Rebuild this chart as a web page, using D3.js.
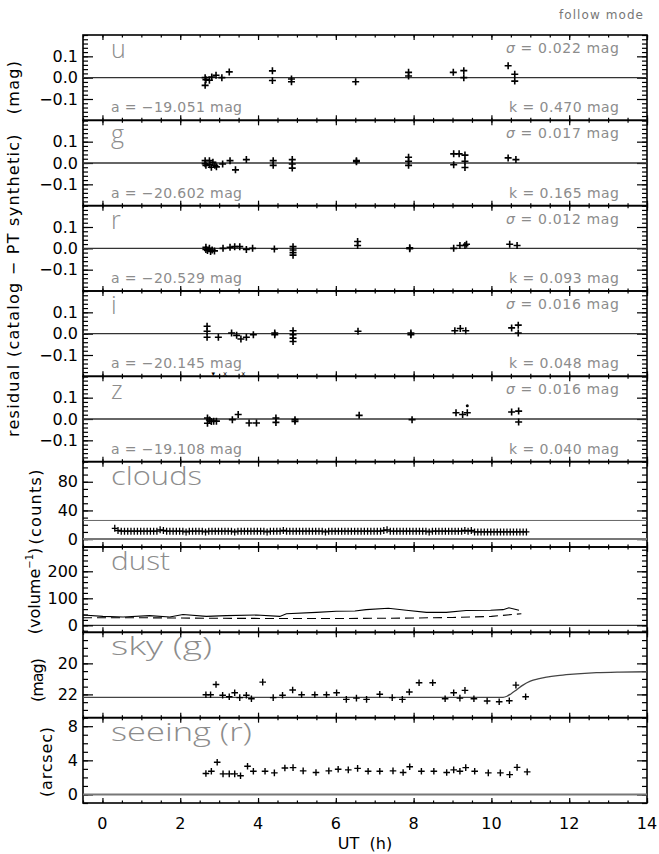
<!DOCTYPE html>
<html lang="en">
<head>
<meta charset="UTF-8">
<title>follow mode</title>
<script src="https://cdnjs.cloudflare.com/ajax/libs/d3/7.8.5/d3.min.js"></script>
<style>
  html, body { margin: 0; padding: 0; background: #fff; }
  svg text { font-family: 'DejaVu Sans', sans-serif; }
  .big { font-family: 'Open Sans', 'DejaVu Sans', sans-serif; font-weight: 300; white-space: pre; }
</style>
</head>
<body>
<div id="chart"></div>
<script>

// ---- data ----
var panelNames = ["u", "g", "r", "i", "z", "clouds", "dust", "sky (g)", "seeing (r)"];
var nameWidths = [0, 0, 0, 0, 0, 91, 59, 101, 141];
var zeroPoints = ["\u221219.051", "\u221220.602", "\u221220.529", "\u221220.145", "\u221219.108"];
var sigmas = ["0.022", "0.017", "0.012", "0.016", "0.016"];
var extinctions = ["0.470", "0.165", "0.093", "0.048", "0.040"];

var xTicks = [0, 2, 4, 6, 8, 10, 12, 14];
var residTicks = [-0.1, 0, 0.1];
var cloudTicks = [0, 40, 80];
var dustTicks = [0, 100, 200];
var skyTicks = [20, 22];
var seeingTicks = [0, 4, 8];

var uResid = [[2.64,0.000],[2.64,-0.036],[2.66,-0.010],[2.75,-0.012],[2.81,0.003],[2.92,0.011],[3.07,0.000],[3.26,0.027],
  [4.37,0.032],[4.37,-0.013],[4.86,-0.006],[4.86,-0.019],[6.51,-0.019],[7.87,0.025],[7.87,0.008],[9.02,0.025],
  [9.29,0.033],[9.29,0.000],[10.43,0.056],[10.60,0.016],[10.60,-0.016]];
var gResid = [[2.64,0.011],[2.64,-0.003],[2.66,-0.011],[2.75,0.011],[2.76,-0.008],[2.80,-0.020],[2.84,0.003],[2.89,-0.011],
  [2.93,-0.018],[3.09,-0.005],[3.28,0.011],[3.42,-0.032],[3.70,0.016],[4.39,0.011],[4.39,-0.011],[4.88,0.016],
  [4.88,-0.005],[4.88,-0.024],[6.53,0.011],[6.53,0.006],[7.87,0.027],[7.87,0.008],[7.87,-0.011],[9.03,0.043],
  [9.03,-0.008],[9.17,0.043],[9.32,0.037],[9.32,0.008],[9.32,-0.021],[10.43,0.024],[10.63,0.016]];
var rResid = [[2.66,0.005],[2.66,-0.005],[2.70,-0.010],[2.75,0.000],[2.78,-0.015],[2.82,-0.008],[2.88,-0.012],[3.10,0.000],
  [3.28,0.005],[3.40,0.008],[3.53,0.008],[3.70,-0.005],[3.86,0.000],[4.42,-0.003],[4.90,0.008],[4.90,-0.008],
  [4.90,-0.020],[4.90,-0.032],[6.56,0.032],[6.56,0.013],[7.90,0.003],[7.90,-0.002],[9.03,0.000],[9.19,0.013],
  [9.32,0.013],[9.36,0.019],[10.47,0.019],[10.66,0.013]];
var iResid = [[2.69,0.035],[2.69,0.011],[2.69,-0.017],[2.98,-0.017],[3.32,0.003],[3.45,-0.008],[3.56,-0.025],[3.70,-0.017],
  [3.88,-0.005],[4.43,0.003],[4.43,-0.005],[4.90,0.014],[4.90,-0.005],[4.90,-0.021],[4.90,-0.037],[6.57,0.011],
  [7.93,0.003],[7.93,-0.005],[9.06,0.014],[9.20,0.024],[9.34,0.014],[10.52,0.027],[10.69,0.040],[10.69,0.003]];
var zResid = [[2.70,0.005],[2.70,-0.020],[2.75,-0.005],[2.80,-0.012],[2.86,-0.010],[2.93,-0.010],[3.34,-0.003],[3.49,0.021],
  [3.77,-0.019],[3.96,-0.019],[4.46,0.005],[4.46,-0.016],[4.95,-0.003],[4.95,-0.011],[6.60,0.017],[7.96,-0.003],
  [9.09,0.029],[9.26,0.021],[9.38,0.029],[10.52,0.033],[10.70,0.037],[10.70,-0.014]];
var zDots = [[9.38,0.062]];
var iOffScale = [2.85, 3.15, 3.62];
var residuals = [uResid, gResid, rResid, iResid, zResid];

var cloudMinutes = [19,24,29,34,39,44,49,54,59,64,
  69,74,79,84,89,94,99,104,109,114,
  119,124,129,134,139,144,149,154,159,164,
  169,174,179,184,189,194,199,204,209,214,
  219,224,229,234,239,244,249,254,259,264,
  269,274,279,284,289,294,299,304,309,314,
  319,324,329,334,339,344,349,354,359,364,
  369,374,379,384,389,394,399,404,409,414,
  419,424,429,434,439,444,449,454,459,464,
  469,474,479,484,489,494,499,504,509,514,
  519,524,529,534,539,544,549,554,559,564,
  569,574,579,584,589,594,599,604,609,614,
  619,624,629,634,639,644,649,654];
var cloudCounts = [15,12,11,11,11,11,11,11,11,11,
  11,11,11,11,13,12,11,11,11,11,
  11,11,10,11,11,11,11,11,10,11,
  11,11,11,11,11,11,11,10,11,11,
  11,11,11,11,11,11,11,10,11,11,
  11,11,12,11,11,11,11,11,11,11,
  11,11,11,11,11,10,11,11,11,11,
  11,11,11,11,11,11,11,11,11,11,
  11,11,11,12,13,11,11,11,11,11,
  11,11,11,11,11,11,11,10,11,11,
  11,11,11,11,11,11,11,11,12,11,
  12,10,10,10,10,10,10,10,10,10,
  10,10,10,10,10,10,10,10];
var cloudLimit = 26;

var dustSolid = [[-0.5,38],[0.01,33],[0.53,31],[1.21,36],[1.73,31],[2.07,40],[2.67,33],[3.18,36],[3.96,38],[4.56,33],
  [4.73,43],[5.5,48],[6.01,52],[6.49,53],[6.78,58],[7.35,63],[7.81,56],[8.33,48],[8.84,48],[9.35,55],
  [9.98,56],[10.3,58],[10.45,65],[10.71,56]];
var dustDashed = [[-0.5,28],[1,28],[3,26],[5,25],[6,25],[8,27],[9,29],[10,33],[10.77,43]];

var skyMag = [[2.66,22.02],[2.78,22.02],[2.92,21.36],[3.09,22.06],[3.26,22.15],[3.40,21.89],[3.53,22.21],[3.70,22.06],
  [3.83,22.28],[4.12,21.21],[4.39,22.21],[4.63,22.06],[4.89,21.72],[5.12,22.02],[5.46,22.02],[5.76,22.02],
  [6.02,21.89],[6.27,22.32],[6.53,22.24],[6.79,22.32],[7.13,21.99],[7.45,22.21],[7.71,22.32],[7.89,21.85],
  [8.14,21.25],[8.49,21.25],[8.81,22.28],[9.03,21.89],[9.19,22.24],[9.32,21.74],[9.55,22.28],[9.89,22.43],
  [10.20,22.47],[10.46,22.41],[10.63,21.40],[10.88,22.15]];
var skyModel = [[-0.5,22.19],[10.30,22.19],[10.40,22.12],[10.50,21.97],[10.65,21.70],[10.80,21.42],[11.00,21.15],
  [11.20,21.00],[11.42,20.89],[11.70,20.79],[12.02,20.71],[12.40,20.64],[12.70,20.60],[13.30,20.56],[14.00,20.54]];

var seeing = [[2.66,2.45],[2.80,2.72],[2.95,3.78],[3.10,2.41],[3.26,2.41],[3.40,2.41],[3.55,2.20],[3.73,3.31],
  [3.88,2.72],[4.18,2.72],[4.42,2.53],[4.69,3.10],[4.90,3.14],[5.16,2.76],[5.49,2.57],[5.82,2.76],
  [6.06,2.96],[6.32,2.88],[6.56,3.06],[6.83,2.72],[7.13,2.72],[7.47,2.76],[7.73,2.57],[7.90,3.25],
  [8.20,2.72],[8.52,2.72],[8.85,2.57],[9.03,2.88],[9.19,2.72],[9.34,3.14],[9.57,2.72],[9.92,2.53],
  [10.23,2.53],[10.47,2.33],[10.66,3.18],[10.92,2.65]];

// ---- layout ----
var width = 659, height = 854;
var plotLeft = 83, plotRight = 647, plotTop = 35;
var panelH = 768 / 9;
var gray = "#8c8c8c";

var svg = d3.select('#chart').append('svg')
    .attr('width', width)
    .attr('height', height);

var x = d3.scaleLinear().domain([-0.5, 14]).range([plotLeft, plotRight]);

var fmt1 = d3.format(".1f");
var fmt0 = d3.format("d");
var specs = [];
for (var k = 0; k < 5; k++) {
    specs.push({domain: [-0.2, 0.2], major: residTicks, minor: d3.range(-0.2, 0.2001, 0.02), fmt: fmt1});
}
specs.push({domain: [-11, 108], major: cloudTicks, minor: d3.range(-10, 101, 10), fmt: fmt0});
specs.push({domain: [-26, 290], major: dustTicks, minor: d3.range(-20, 281, 20), fmt: fmt0});
specs.push({domain: [23.5, 18], major: skyTicks, minor: d3.range(18.5, 23.01, 0.5), fmt: fmt0});
specs.push({domain: [-1, 9], major: seeingTicks, minor: d3.range(-1, 9.01, 1), fmt: fmt0});

var xMinor = d3.range(-0.5, 14.01, 0.5);

svg.append('clipPath').attr('id', 'plotclip')
  .append('rect')
    .attr('x', plotLeft).attr('y', plotTop)
    .attr('width', plotRight - plotLeft).attr('height', panelH * 9);

function plus(g, pts, xs, ys, hw, hh, sw) {
    g.selectAll(null)
        .data(pts)
        .enter()
        .append('path')
        .attr('d', 'M' + (-hw) + ',0H' + hw + 'M0,' + (-hh) + 'V' + hh)
        .attr('transform', function(d) { return 'translate(' + xs(d[0]) + ',' + ys(d[1]) + ')'; })
        .attr('stroke', '#000')
        .attr('stroke-width', sw)
        .attr('fill', 'none');
}

function styleAxis(sel) {
    sel.select('.domain').remove();
    sel.selectAll('line').attr('stroke', '#000').attr('stroke-width', 1.2);
    sel.attr('font-size', 16).attr('font-family', "'DejaVu Sans', sans-serif");
    sel.selectAll('text').attr('fill', '#000');
}

var yScales = [];

specs.forEach(function(s, i) {
    var y0 = plotTop + i * panelH, y1 = y0 + panelH;
    var y = d3.scaleLinear().domain(s.domain).range([y1, y0]);
    yScales.push(y);
    var g = svg.append('g').attr('class', 'panel');

    g.append('g').attr('transform', 'translate(' + plotLeft + ',0)')
        .call(d3.axisLeft(y).tickValues(s.minor).tickSize(-5).tickFormat(''))
        .call(styleAxis);
    g.append('g').attr('transform', 'translate(' + plotLeft + ',0)')
        .call(d3.axisLeft(y).tickValues(s.major).tickSize(-10).tickPadding(5).tickFormat(s.fmt))
        .call(styleAxis);
    g.append('g').attr('transform', 'translate(' + plotRight + ',0)')
        .call(d3.axisRight(y).tickValues(s.minor).tickSize(-5).tickFormat(''))
        .call(styleAxis);
    g.append('g').attr('transform', 'translate(' + plotRight + ',0)')
        .call(d3.axisRight(y).tickValues(s.major).tickSize(-10).tickFormat(''))
        .call(styleAxis);

    g.append('g').attr('transform', 'translate(0,' + y0 + ')')
        .call(d3.axisTop(x).tickValues(xMinor).tickSize(-2.5).tickFormat(''))
        .call(styleAxis);
    g.append('g').attr('transform', 'translate(0,' + y0 + ')')
        .call(d3.axisTop(x).tickValues(xTicks).tickSize(-5).tickFormat(''))
        .call(styleAxis);
    g.append('g').attr('transform', 'translate(0,' + y1 + ')')
        .call(d3.axisBottom(x).tickValues(xMinor).tickSize(-2.5).tickFormat(''))
        .call(styleAxis);
    g.append('g').attr('transform', 'translate(0,' + y1 + ')')
        .call(d3.axisBottom(x).tickValues(xTicks).tickSize(-5).tickFormat(''))
        .call(styleAxis);

    g.append('rect')
        .attr('x', plotLeft).attr('y', y0)
        .attr('width', plotRight - plotLeft).attr('height', panelH)
        .attr('fill', 'none').attr('stroke', '#000').attr('stroke-width', 1.6);

    var nm = g.append('text')
        .attr('class', 'big')
        .attr('x', 111).attr('y', y0 + 23)
        .attr('font-size', 25)
        .attr('fill', gray)
        .text(panelNames[i]);
    if (nameWidths[i]) nm.attr('textLength', nameWidths[i]).attr('lengthAdjust', 'spacingAndGlyphs');
});

// residual panels
residuals.forEach(function(pts, i) {
    var y = yScales[i];
    var y0 = plotTop + i * panelH, y1 = y0 + panelH;
    svg.append('line')
        .attr('x1', plotLeft).attr('x2', plotRight)
        .attr('y1', y(0)).attr('y2', y(0))
        .attr('stroke', '#333').attr('stroke-width', 1.3);
    plus(svg.append('g'), pts, x, y, 3.5, 3.5, 1.6);

    svg.append('text')
        .attr('x', 111).attr('y', y1 - 8)
        .attr('font-size', 14).attr('fill', gray)
        .attr('textLength', 131).attr('lengthAdjust', 'spacing')
        .text('a = ' + zeroPoints[i] + ' mag');
    var st = svg.append('text')
        .attr('x', 619).attr('y', y0 + 18)
        .attr('text-anchor', 'end')
        .attr('font-size', 14).attr('fill', gray)
        .attr('textLength', 113).attr('lengthAdjust', 'spacing');
    st.append('tspan').attr('font-style', 'italic').text('\u03c3');
    st.append('tspan').text(' = ' + sigmas[i] + ' mag');
    svg.append('text')
        .attr('x', 619).attr('y', y1 - 8)
        .attr('text-anchor', 'end')
        .attr('font-size', 14).attr('fill', gray)
        .attr('textLength', 110).attr('lengthAdjust', 'spacing')
        .text('k = ' + extinctions[i] + ' mag');
});

svg.append('g').selectAll(null)
    .data(zDots).enter().append('circle')
    .attr('cx', function(d) { return x(d[0]); })
    .attr('cy', function(d) { return yScales[4](d[1]); })
    .attr('r', 1.5).attr('fill', '#000');

svg.append('g').selectAll(null)
    .data(iOffScale).enter().append('text')
    .attr('x', function(d) { return x(d); })
    .attr('y', plotTop + 4 * panelH - 0.5)
    .attr('text-anchor', 'middle')
    .attr('font-size', 7)
    .text(function(d, j) { return j === 0 ? '\u25be' : 'x'; });

// clouds
var yc = yScales[5];
svg.append('line')
    .attr('x1', plotLeft).attr('x2', plotRight)
    .attr('y1', yc(cloudLimit)).attr('y2', yc(cloudLimit))
    .attr('stroke', '#666').attr('stroke-width', 1);
svg.append('line')
    .attr('x1', plotLeft).attr('x2', plotRight)
    .attr('y1', yc(0)).attr('y2', yc(0))
    .attr('stroke', '#777').attr('stroke-width', 2);
var cloudPts = cloudMinutes.map(function(m, j) { return [m / 60, cloudCounts[j]]; });
plus(svg.append('g'), cloudPts, x, yc, 3, 3.5, 1.3);

// dust
var yd = yScales[6];
svg.append('line')
    .attr('x1', plotLeft).attr('x2', plotRight)
    .attr('y1', yd(0)).attr('y2', yd(0))
    .attr('stroke', '#000').attr('stroke-width', 1);
var dLine = d3.line().x(function(d) { return x(d[0]); }).y(function(d) { return yd(d[1]); });
svg.append('path').datum(dustSolid)
    .attr('d', dLine).attr('fill', 'none')
    .attr('stroke', '#000').attr('stroke-width', 1.1)
    .attr('clip-path', 'url(#plotclip)');
svg.append('path').datum(dustDashed)
    .attr('d', dLine).attr('fill', 'none')
    .attr('stroke', '#000').attr('stroke-width', 1.1)
    .attr('stroke-dasharray', '9,5')
    .attr('clip-path', 'url(#plotclip)');

// sky
var ys = yScales[7];
var sLine = d3.line().curve(d3.curveMonotoneX)
    .x(function(d) { return x(d[0]); }).y(function(d) { return ys(d[1]); });
svg.append('path').datum(skyModel)
    .attr('d', sLine).attr('fill', 'none')
    .attr('stroke', '#444').attr('stroke-width', 1.3)
    .attr('clip-path', 'url(#plotclip)');
plus(svg.append('g'), skyMag, x, ys, 3.3, 3.3, 1.4);

// seeing
var yse = yScales[8];
svg.append('line')
    .attr('x1', plotLeft).attr('x2', plotRight)
    .attr('y1', yse(0)).attr('y2', yse(0))
    .attr('stroke', '#777').attr('stroke-width', 2);
plus(svg.append('g'), seeing, x, yse, 3.3, 3.3, 1.4);

// x tick labels and titles
svg.append('g').selectAll(null)
    .data(xTicks).enter().append('text')
    .attr('x', function(d) { return x(d); })
    .attr('y', 829)
    .attr('text-anchor', 'middle')
    .attr('font-size', 16)
    .text(function(d) { return d; });

svg.append('text')
    .attr('x', (plotLeft + plotRight) / 2).attr('y', 849)
    .attr('text-anchor', 'middle')
    .attr('font-size', 16)
    .style('white-space', 'pre')
    .text('UT  (h)');

svg.append('text')
    .attr('x', 643).attr('y', 19)
    .attr('text-anchor', 'end')
    .attr('font-size', 12).attr('fill', '#777')
    .attr('textLength', 84).attr('lengthAdjust', 'spacing')
    .text('follow mode');

function vLabel(xb, yc, len) {
    var t = svg.append('text')
        .attr('transform', 'translate(' + xb + ',' + yc + ') rotate(-90)')
        .attr('text-anchor', 'middle')
        .attr('font-size', 16)
        .style('white-space', 'pre');
    if (len) t.attr('textLength', len).attr('lengthAdjust', 'spacing');
    return t;
}
vLabel(19, 249, 376).text('residual (catalog \u2212 PT synthetic)   (mag)');
vLabel(41, 507, 75).text('(counts)');
var vol = vLabel(40, 591, 0);
vol.append('tspan').text('(volume');
vol.append('tspan').attr('font-size', 10).attr('dy', -7).text('\u22121');
vol.append('tspan').attr('dy', 7).text(')');
vLabel(43, 680, 44).text('(mag)');
vLabel(52, 762, 70).text('(arcsec)');

</script>
</body>
</html>
